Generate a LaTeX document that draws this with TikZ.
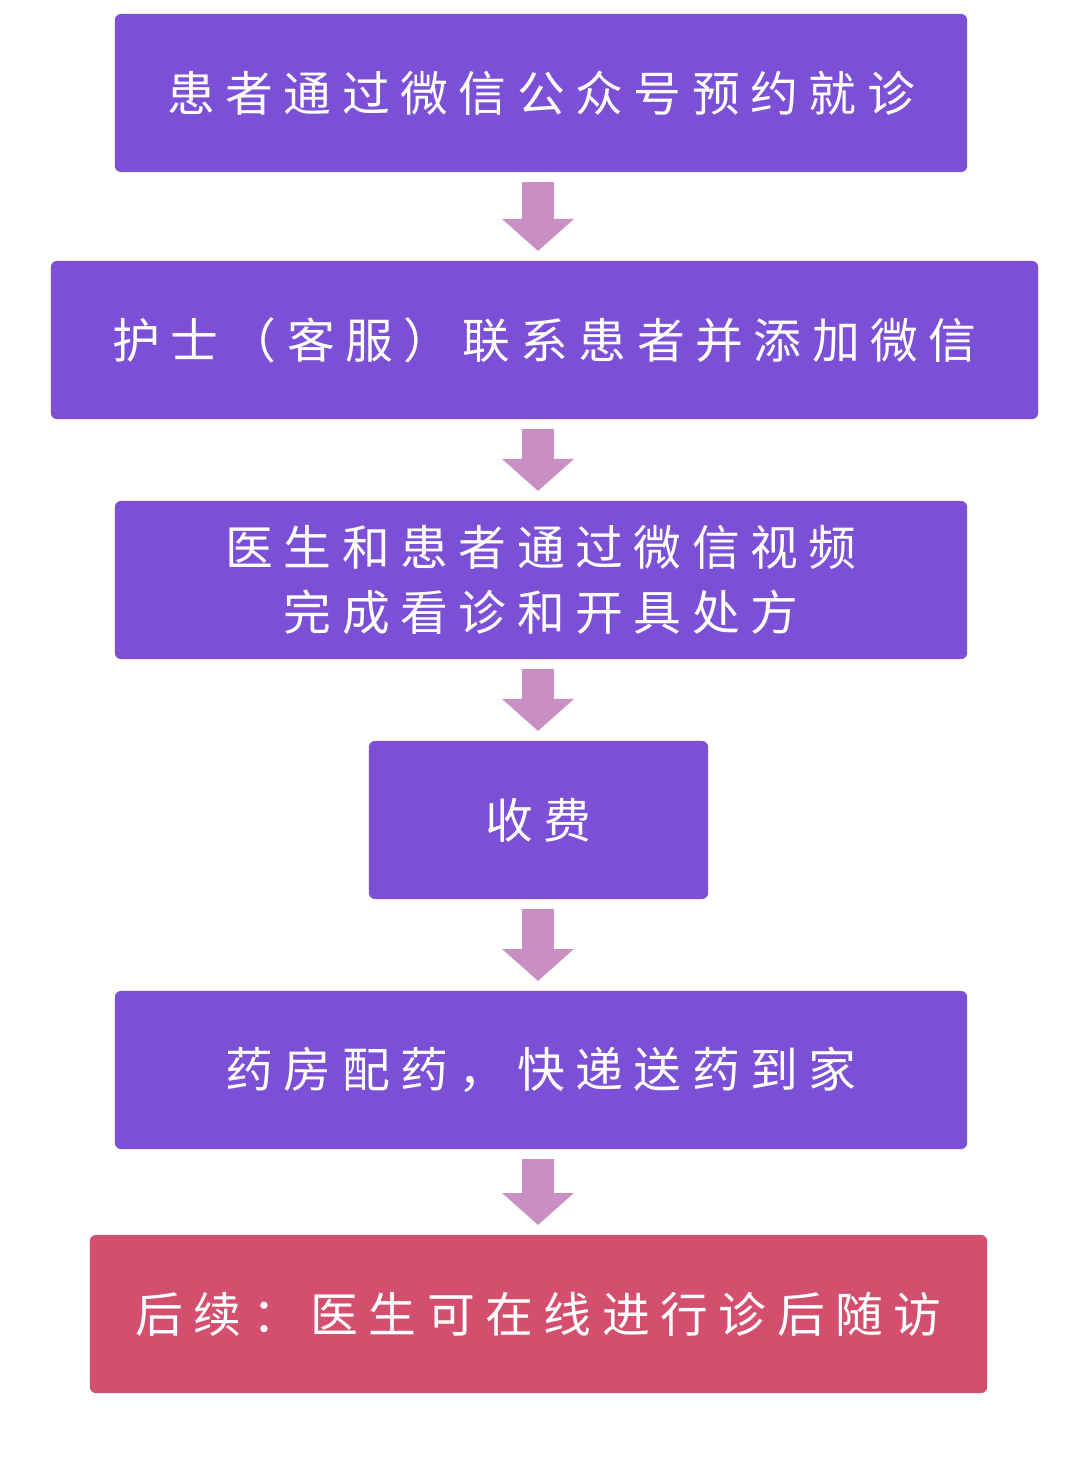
\documentclass[tikz,border=0pt]{standalone}
\usepackage{fontspec}
\setmainfont{Noto Sans CJK SC}[LetterSpace=22]
\usetikzlibrary{arrows.meta}
\definecolor{boxp}{HTML}{7B4FD6}
\definecolor{boxr}{HTML}{D44F6E}
\definecolor{arr}{HTML}{C98FC2}
\begin{document}
\begin{tikzpicture}[x=0.025cm,y=-0.025cm,
  box/.style={fill=boxp,rounded corners=0.15cm,minimum height=3.95cm,text=white,
    font=\fontsize{34}{46}\selectfont,align=center,inner sep=0pt},
  conn/.style={draw=arr,line width=0.8cm,-{Triangle[width=1.75cm,length=0.8cm]},shorten <=0.25cm,shorten >=0.25cm}]
\useasboundingbox (0,0) rectangle (1080,1474);
\node[box,minimum width=21.3cm] (b1) at (541,93) {患者通过微信公众号预约就诊};
\node[box,minimum width=24.675cm] (b2) at (544.5,340) {护士（客服）联系患者并添加微信};
\node[box,minimum width=21.3cm] (b3) at (541,580) {医生和患者通过微信视频\\完成看诊和开具处方};
\node[box,minimum width=8.475cm] (b4) at (538.5,820) {收费};
\node[box,minimum width=21.3cm] (b5) at (541,1070) {药房配药，快递送药到家};
\node[box,fill=boxr,minimum width=22.425cm] (b6) at (538.5,1314) {后续：医生可在线进行诊后随访};
\coordinate (a1s) at (538,172); \coordinate (a1e) at (538,261);
\coordinate (a2s) at (538,419); \coordinate (a2e) at (538,501);
\coordinate (a3s) at (538,659); \coordinate (a3e) at (538,741);
\coordinate (a4s) at (538,899); \coordinate (a4e) at (538,991);
\coordinate (a5s) at (538,1149); \coordinate (a5e) at (538,1235);
\draw[conn] (a1s) -- (a1e);
\draw[conn] (a2s) -- (a2e);
\draw[conn] (a3s) -- (a3e);
\draw[conn] (a4s) -- (a4e);
\draw[conn] (a5s) -- (a5e);
\end{tikzpicture}
\end{document}
